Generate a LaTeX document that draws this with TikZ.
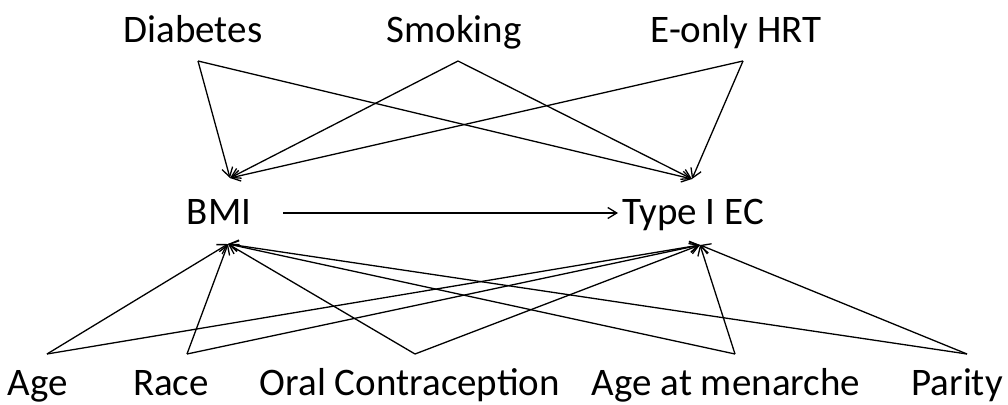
\documentclass[tikz,border=0pt]{standalone}
\usepackage{fontspec}
\setmainfont{Carlito}
\usetikzlibrary{arrows.meta}
\tikzset{
  every picture/.style={font=\fontsize{39}{47}\selectfont},
  var/.style={inner sep=0pt, anchor=base},
  cause/.style={-{Straight Barb[length=9pt,width=11pt,line width=1.3pt]},
    draw=black, line width=1.3pt}
}
\begin{document}
\begin{tikzpicture}[x=1pt,y=-1pt]
  \useasboundingbox (0,0) rectangle (1008,404);
  % top row of causes
  \foreach \name/\x/\px/\lab in {diab/193/198/Diabetes,smok/454/458/Smoking,hrt/736/743/E-only HRT}{
    \node[var] (\name) at (\x,42) {\lab};
    \coordinate (\name-out) at (\px,61);
  }
  % bottom row of causes
  \foreach \name/\x/\px/\lab in {age/38/47/Age,race/171/187/Race,oc/410/415/Oral Contraception,men/726/735/Age at menarche,par/957/967/Parity}{
    \node[var] (\name) at (\x,395) {\lab};
    \coordinate (\name-out) at (\px,354);
  }
  % exposure and outcome
  \node[var] (bmi) at (219,224) {BMI};
  \node[var] (ec) at (693,224) {Type I EC};
  \coordinate (bmi-top) at (230,178);
  \coordinate (bmi-bot) at (228,244);
  \coordinate (bmi-r) at (283,213);
  \coordinate (ec-top) at (692,179);
  \coordinate (ec-bot) at (700,245);
  \coordinate (ec-l) at (618,213);

  \draw[cause] (bmi-r) -- (ec-l);
  \foreach \s in {diab,smok,hrt}{
    \draw[cause] (\s-out) -- (bmi-top);
    \draw[cause] (\s-out) -- (ec-top);
  }
  \foreach \s in {age,race,oc,men,par}{
    \draw[cause] (\s-out) -- (bmi-bot);
    \draw[cause] (\s-out) -- (ec-bot);
  }
\end{tikzpicture}
\end{document}
